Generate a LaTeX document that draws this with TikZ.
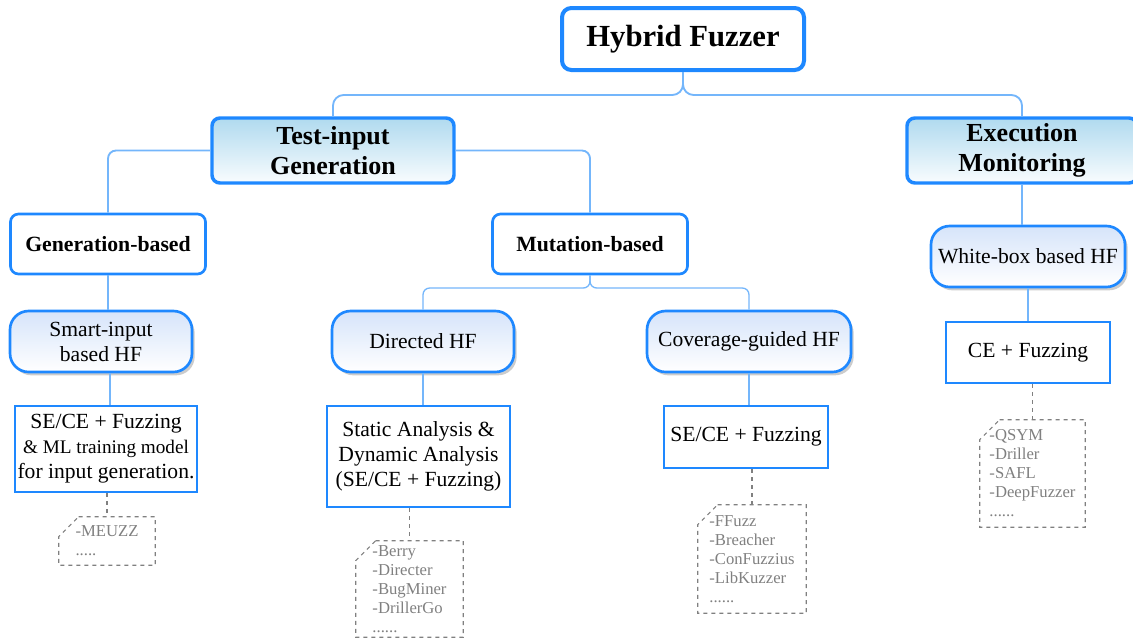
\documentclass[tikz,border=0pt]{standalone}
\usepackage{fontspec}
\setmainfont{Liberation Serif}
\usetikzlibrary{shadows}

\definecolor{fzblue}{HTML}{1E88FF}
\definecolor{fzlink}{HTML}{74B6FB}
\definecolor{fzcat}{HTML}{B0DAEF}
\definecolor{fzhf}{HTML}{D6E4FA}
\definecolor{fznote}{HTML}{808080}

\tikzset{
	rootbox/.style={draw=fzblue, line width=3pt, rounded corners=7pt, fill=white,
		minimum width=181.5pt, minimum height=46.5pt, font=\fontsize{23}{27}\selectfont\bfseries},
	catbox/.style={draw=fzblue, line width=2.6pt, rounded corners=6pt, top color=fzcat,
		bottom color=white!92!fzcat, minimum height=48.75pt, align=center,
		font=\fontsize{19.5}{22.5}\selectfont\bfseries},
	kindbox/.style={draw=fzblue, line width=2pt, rounded corners=6pt, fill=white,
		minimum width=146.25pt, minimum height=45pt, font=\fontsize{16.3}{19}\selectfont\bfseries},
	hfbox/.style={draw=fzblue, line width=2pt, rounded corners=14pt, top color=fzhf,
		bottom color=white, drop shadow={shadow xshift=2pt, shadow yshift=-2.5pt, fill=black!40},
		minimum height=45.75pt, align=center, font=\fontsize{16.2}{18.75}\selectfont},
	methbox/.style={draw=fzblue, line width=2pt, fill=white, inner sep=2pt, align=center,
		font=\fontsize{16.2}{18.75}\selectfont},
	notebox/.style={text=fznote, align=left, inner sep=0pt,
		font=\fontsize{12.5}{14.25}\selectfont},
	noteline/.style={draw=fznote, dashed, line width=0.8pt},
	link/.style={draw=fzlink, line width=1.4pt, rounded corners=6pt}
}

\begin{document}
\begin{tikzpicture}[x=0.75pt,y=-0.75pt]
	\useasboundingbox (0,0) rectangle (1133,637);

	% top levels
	\node[rootbox] (hf) at (683,39) {Hybrid Fuzzer};
	\node[catbox, minimum width=181.5pt] (tig) at (333,150.5) {Test-input\\Generation};
	\node[catbox, minimum width=172.5pt] (em) at (1022,150.5) {Execution\\Monitoring};
	\coordinate (hub) at (683,95);
	\draw[link, rounded corners=8pt] (tig.north) |- (hub) -- (hf.south);
	\draw[link, rounded corners=8pt] (em.north) |- (hub) -- (hf.south);

	% input kinds
	\node[kindbox] (gen) at (108,244) {Generation-based};
	\node[kindbox] (mut) at (590,244) {Mutation-based};
	\draw[link] (tig.west) -| (gen.north);
	\draw[link] (tig.east) -| (mut.north);

	% hybrid fuzzer types
	\node[hfbox, minimum width=136.5pt] (smart) at (101,341.5) {Smart-input\\based HF};
	\node[hfbox, minimum width=136.5pt] (dir) at (423,341.5) {Directed HF};
	\node[hfbox, minimum width=153pt] (cov) at (749,341.5) {Coverage-guided HF};
	\node[hfbox, minimum width=145.5pt] (wb) at (1028,256.5) {White-box based HF};
	\coordinate (mhub) at (590,288);
	\draw[link, line width=1pt, rounded corners=5pt] (dir.north) |- (mhub) -- (mut.south);
	\draw[link, line width=1pt, rounded corners=5pt] (cov.north) |- (mhub) -- (mut.south);
	\draw[link, line width=1pt] (gen.south) -- (gen.south |- smart.north);
	\draw[link, line width=1pt] (em.south) -- (em.south |- wb.north);

	% techniques
	\node[methbox, minimum width=130.5pt, minimum height=64.5pt] (smartm) at (106,449)
		{SE/CE + Fuzzing\\\fontsize{14.4}{19}\selectfont\& ML training model\\for input generation.};
	\node[methbox, minimum width=137.25pt, minimum height=75.75pt] (dirm) at (418.5,456.5)
		{Static Analysis \&\\Dynamic Analysis\\(SE/CE + Fuzzing)};
	\node[methbox, minimum width=123pt, minimum height=46.5pt] (covm) at (746,437) {SE/CE + Fuzzing};
	\node[methbox, minimum width=123pt, minimum height=45.75pt] (wbm) at (1028,352.5) {CE + Fuzzing};
	\draw[link, line width=1pt] (110,0 |- smartm.north) -- (110,0 |- smart.south);
	\draw[link, line width=1pt] (dirm.north -| dir.south) -- (dir.south);
	\draw[link, line width=1pt] (covm.north -| cov.south) -- (cov.south);
	\draw[link, line width=1pt] (wbm.north) -- (wbm.north |- wb.south);

	% tools
	\node[notebox, minimum width=72pt, minimum height=36pt] (smartn) at (107,541) {-MEUZZ\\.....};
	\node[notebox, minimum width=80.25pt, minimum height=72pt] (dirn) at (409.5,589)
		{-Berry\\-Directer\\-BugMiner\\-DrillerGo\\......};
	\node[notebox, minimum width=81pt, minimum height=81pt] (covn) at (752,559)
		{-FFuzz\\-Breacher\\-ConFuzzius\\-LibKuzzer\\......};
	\node[notebox, minimum width=78.75pt, minimum height=80.25pt] (wbn) at (1032.5,473.5)
		{-QSYM\\-Driller\\-SAFL\\-DeepFuzzer\\......};
	\foreach \m/\n in {smartm/smartn, dirm/dirn, covm/covn, wbm/wbn} {
		\draw[noteline] ([xshift=15pt]\n.north west) -- (\n.north east) -- (\n.south east)
			-- (\n.south west) -- ([yshift=-15pt]\n.north west) -- cycle;
		\draw[noteline] (\m.south -| \n.north) -- (\n.north);
	}
\end{tikzpicture}
\end{document}
